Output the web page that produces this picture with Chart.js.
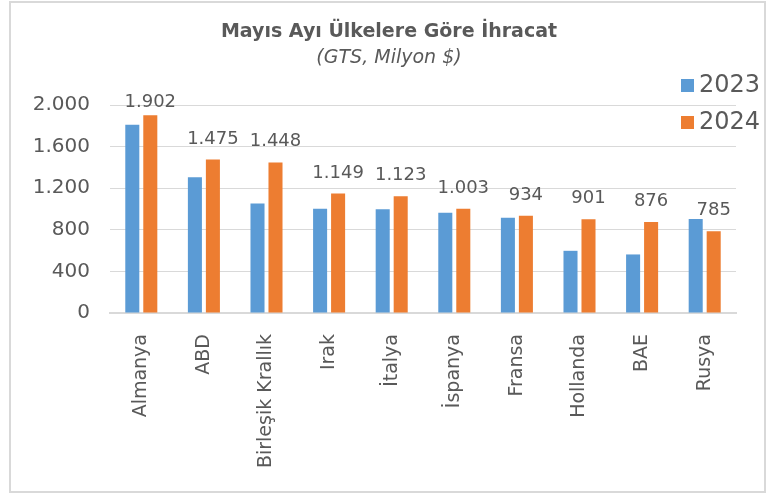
<!DOCTYPE html>
<html>
<head>
<meta charset="utf-8">
<script src="https://cdn.jsdelivr.net/npm/chart.js@4/dist/chart.umd.min.js"></script>
<style>
  html, body { margin: 0; padding: 0; background: #ffffff; }
  #wrap { position: relative; width: 771px; height: 493px; }
</style>
</head>
<body>
<div id="wrap"><canvas id="c" width="771" height="493"></canvas></div>
<script>
const categories = ["Almanya", "ABD", "Birleşik Krallık", "Irak", "İtalya", "İspanya", "Fransa", "Hollanda", "BAE", "Rusya"];
const seriesNames = ["2023", "2024"];
const values2023 = [1810, 1305, 1052, 1003, 998, 965, 915, 598, 563, 905];
const values2024 = [1902, 1475, 1448, 1149, 1123, 1003, 934, 901, 876, 785];
const yTicks = [0, 400, 800, 1200, 1600, 2000];
const titleText = "Mayıs Ayı Ülkelere Göre İhracat";
const subtitleText = "(GTS, Milyon $)";

const TEXT = "#595959";
const GRID = "#d9d9d9";
const BLUE = "#5B9BD5";
const ORANGE = "#ED7D31";
const FONT = "'DejaVu Sans', sans-serif";

function fmt(v) {
  return String(Math.round(v)).replace(/\B(?=(\d{3})+(?!\d))/g, ".");
}

const decor = {
  id: "decor",
  beforeDraw(chart) {
    const ctx = chart.ctx;
    ctx.save();
    ctx.fillStyle = "#ffffff";
    ctx.fillRect(0, 0, chart.width, chart.height);
    ctx.strokeStyle = GRID;
    ctx.lineWidth = 2;
    ctx.strokeRect(10, 2, 755, 490);
    ctx.restore();
  },
  afterDraw(chart) {
    const ctx = chart.ctx;
    ctx.save();
    ctx.fillStyle = TEXT;
    ctx.textAlign = "center";
    ctx.textBaseline = "middle";
    ctx.font = "bold 19px " + FONT;
    ctx.fillText(titleText, 389, 32);
    ctx.font = "italic 19px " + FONT;
    ctx.fillText(subtitleText, 389, 58);

    // legend
    const colors = [BLUE, ORANGE];
    const ys = [85, 122];
    ctx.textAlign = "left";
    ctx.font = "24px " + FONT;
    seriesNames.forEach((n, i) => {
      ctx.fillStyle = colors[i];
      ctx.fillRect(681, ys[i] - 6, 13, 13);
      ctx.fillStyle = TEXT;
      ctx.fillText(n, 699, ys[i] + 1);
    });

    // data labels on 2024 series
    const meta = chart.getDatasetMeta(1);
    ctx.textAlign = "center";
    ctx.textBaseline = "alphabetic";
    ctx.font = "18px " + FONT;
    ctx.fillStyle = TEXT;
    meta.data.forEach((bar, i) => {
      const v = chart.data.datasets[1].data[i];
      const y = Math.max(bar.y - 16, 107);
      ctx.fillText(fmt(v), bar.x, y);
    });
    ctx.restore();
  }
};

new Chart(document.getElementById("c"), {
  type: "bar",
  data: {
    labels: categories,
    datasets: [
      { label: seriesNames[0], data: values2023, backgroundColor: BLUE, categoryPercentage: 0.575, barPercentage: 0.78 },
      { label: seriesNames[1], data: values2024, backgroundColor: ORANGE, categoryPercentage: 0.575, barPercentage: 0.78 }
    ]
  },
  options: {
    responsive: false,
    animation: false,
    devicePixelRatio: 1,
    layout: { padding: { left: 0, right: 35, top: 105, bottom: 0 } },
    plugins: {
      legend: { display: false },
      title: { display: false },
      tooltip: { enabled: false }
    },
    scales: {
      x: {
        grid: { display: false, drawTicks: false },
        border: { display: true, color: GRID, width: 2 },
        ticks: {
          color: TEXT,
          font: { family: FONT, size: 19 },
          minRotation: 90,
          maxRotation: 90,
          autoSkip: false,
          padding: 21
        },
        afterFit(scale) { scale.height = 180; }
      },
      y: {
        min: 0,
        max: 2000,
        afterBuildTicks(scale) { scale.ticks = yTicks.map(v => ({ value: v })); },
        grid: { color: GRID, lineWidth: 1, drawTicks: false },
        border: { display: false },
        ticks: {
          color: TEXT,
          font: { family: FONT, size: 20 },
          padding: 20,
          callback: v => fmt(v)
        },
        afterFit(scale) { scale.width = 110; }
      }
    }
  },
  plugins: [decor]
});
</script>
</body>
</html>
